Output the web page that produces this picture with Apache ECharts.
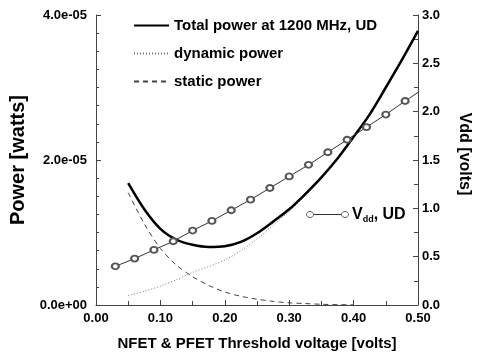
<!DOCTYPE html>
<html>
<head>
<meta charset="utf-8">
<script src="https://cdn.jsdelivr.net/npm/echarts@6/dist/echarts.min.js"></script>
<style>
  html, body { margin: 0; padding: 0; background: #fff; }
  #chart { width: 480px; height: 356px; }
</style>
</head>
<body>
<div id="chart"></div>
<script>
// threshold voltage samples for the power curves [volts]
const vth = [0.05, 0.075, 0.10, 0.125, 0.15, 0.175, 0.20, 0.225, 0.25, 0.275,
             0.30, 0.325, 0.35, 0.375, 0.40, 0.425, 0.45, 0.475, 0.50];
// power [watts]
const totalPower = [1.68e-5, 1.32e-5, 1.05e-5, 0.90e-5, 0.83e-5, 0.80e-5, 0.81e-5, 0.87e-5, 0.99e-5, 1.15e-5,
                    1.32e-5, 1.53e-5, 1.76e-5, 2.02e-5, 2.32e-5, 2.63e-5, 3.00e-5, 3.38e-5, 3.78e-5];
const dynamicPower = [0.13e-5, 0.19e-5, 0.26e-5, 0.35e-5, 0.45e-5, 0.53e-5, 0.62e-5, 0.75e-5, 0.91e-5, 1.10e-5,
                      1.29e-5, 1.51e-5, 1.75e-5, 2.01e-5, 2.31e-5, 2.62e-5, 2.99e-5, 3.37e-5, 3.77e-5];
const staticPower = [1.55e-5, 1.12e-5, 0.78e-5, 0.55e-5, 0.39e-5, 0.27e-5, 0.18e-5, 0.12e-5, 0.08e-5, 0.05e-5,
                     0.03e-5, 0.02e-5, 0.01e-5, 0.005e-5, 0.003e-5];
// supply voltage
const vddX = [0.03, 0.06, 0.09, 0.12, 0.15, 0.18, 0.21, 0.24, 0.27, 0.30, 0.33, 0.36, 0.39, 0.42, 0.45, 0.48, 0.50];
const vdd = [0.40, 0.48, 0.57, 0.66, 0.77, 0.87, 0.98, 1.09, 1.21, 1.33, 1.45, 1.58, 1.71, 1.84, 1.97, 2.11, 2.20];

const names = ['Total power at 1200 MHz, UD', 'dynamic power', 'static power'];

const font = "'Liberation Sans', Arial, Helvetica, sans-serif";
const axisColor = '#444';

function pairs(xs, ys) {
  return ys.map((y, i) => [xs[i], y]);
}
// 4.0e-05 style labels
function sci(v) {
  if (v === 0) return '0.0e+00';
  const e = Math.floor(Math.log10(v) + 1e-9);
  const m = v / Math.pow(10, e);
  return m.toFixed(1) + 'e' + (e < 0 ? '-' : '+') + String(Math.abs(e)).padStart(2, '0');
}

const chart = echarts.init(document.getElementById('chart'));
const tickFont = { color: '#000', fontFamily: font, fontWeight: 'bold', fontSize: 13 };

chart.setOption({
  animation: false,
  backgroundColor: '#fff',
  grid: { left: 96, right: 57, top: 15, bottom: 51 },
  legend: {
    data: names,
    orient: 'vertical',
    left: 128,
    top: 12,
    itemWidth: 35,
    itemHeight: 10,
    itemGap: 11,
    itemStyle: { opacity: 0 },
    textStyle: { color: '#000', fontFamily: font, fontWeight: 'bold', fontSize: 15, lineHeight: 17 }
  },
  xAxis: {
    type: 'value',
    min: 0, max: 0.5, interval: 0.1,
    name: 'NFET & PFET Threshold voltage [volts]',
    nameLocation: 'middle',
    nameGap: 31,
    nameTextStyle: { color: '#000', fontFamily: font, fontWeight: 'bold', fontSize: 15 },
    axisLine: { lineStyle: { color: axisColor, width: 1 } },
    axisTick: { inside: true, length: 5, lineStyle: { color: axisColor } },
    minorTick: { show: true, splitNumber: 2, length: 4, lineStyle: { color: axisColor } },
    splitLine: { show: false },
    axisLabel: Object.assign({ margin: 7, formatter: v => v.toFixed(2) }, tickFont)
  },
  yAxis: [
    {
      type: 'value',
      position: 'left',
      min: 0, max: 4e-5, interval: 2e-5,
      name: 'Power [watts]',
      nameLocation: 'middle',
      nameGap: 62,
      nameRotate: 90,
      nameTextStyle: { color: '#000', fontFamily: font, fontWeight: 'bold', fontSize: 20 },
      axisLine: { show: true, lineStyle: { color: axisColor, width: 1 } },
      axisTick: { show: true, inside: true, length: 5, lineStyle: { color: axisColor } },
      minorTick: { show: true, splitNumber: 8, length: 3, lineStyle: { color: axisColor } },
      splitLine: { show: false },
      axisLabel: Object.assign({ margin: 9, formatter: sci }, tickFont)
    },
    {
      type: 'value',
      position: 'right',
      min: 0, max: 3, interval: 0.5,
      name: 'Vdd [volts]',
      nameLocation: 'middle',
      nameGap: 38,
      nameRotate: -90,
      nameTextStyle: { color: '#000', fontFamily: font, fontWeight: 'bold', fontSize: 16, padding: [0, 12, 0, 0] },
      axisLine: { show: true, lineStyle: { color: axisColor, width: 1 } },
      axisTick: { show: true, inside: true, length: 5, lineStyle: { color: axisColor } },
      minorTick: { show: true, splitNumber: 2, length: 4, lineStyle: { color: axisColor } },
      splitLine: { show: false },
      axisLabel: Object.assign({ margin: 4, formatter: v => v.toFixed(1) }, tickFont)
    }
  ],
  series: [
    {
      name: names[0], type: 'line', yAxisIndex: 0,
      data: pairs(vth, totalPower),
      symbol: 'none', smooth: 0.3, z: 4,
      itemStyle: { color: '#000' },
      lineStyle: { color: '#000', width: 2.5 }
    },
    {
      name: names[1], type: 'line', yAxisIndex: 0,
      data: pairs(vth, dynamicPower),
      symbol: 'none', smooth: 0.3, z: 3,
      itemStyle: { color: '#777' },
      lineStyle: { color: '#777', width: 1, type: [1, 2] }
    },
    {
      name: names[2], type: 'line', yAxisIndex: 0,
      data: pairs(vth, staticPower),
      symbol: 'none', smooth: 0.3, z: 3,
      itemStyle: { color: '#444' },
      lineStyle: { color: '#444', width: 1, type: [5, 4] }
    },
    {
      name: 'Vdd', type: 'line', yAxisIndex: 1,
      data: pairs(vddX, vdd).map((p, i) => i === vddX.length - 1 ? { value: p, symbol: 'none' } : p),
      symbol: 'emptyCircle', symbolSize: [7, 6], z: 5,
      itemStyle: { color: '#555', borderWidth: 1 },
      lineStyle: { color: '#333', width: 1 }
    }
  ],
  graphic: [
    {
      type: 'group', left: 306, top: 207,
      children: [
        { type: 'line', shape: { x1: 3, y1: 10, x2: 38, y2: 10 }, style: { stroke: '#333', lineWidth: 1 } },
        { type: 'ellipse', shape: { cx: 3, cy: 10, rx: 3.5, ry: 3 }, style: { stroke: '#555', fill: '#fff', lineWidth: 1 } },
        { type: 'ellipse', shape: { cx: 38, cy: 10, rx: 3.5, ry: 3 }, style: { stroke: '#555', fill: '#fff', lineWidth: 1 } },
        {
          type: 'text', x: 45, y: 1,
          style: {
            text: '{v|V}{s|dd}{v|, UD}',
            rich: {
              v: { fontFamily: font, fontWeight: 'bold', fontSize: 16, fill: '#000' },
              s: { fontFamily: font, fontWeight: 'bold', fontSize: 9, fill: '#000', padding: [10, 0, 0, 0] }
            }
          }
        }
      ]
    }
  ]
});
</script>
</body>
</html>
